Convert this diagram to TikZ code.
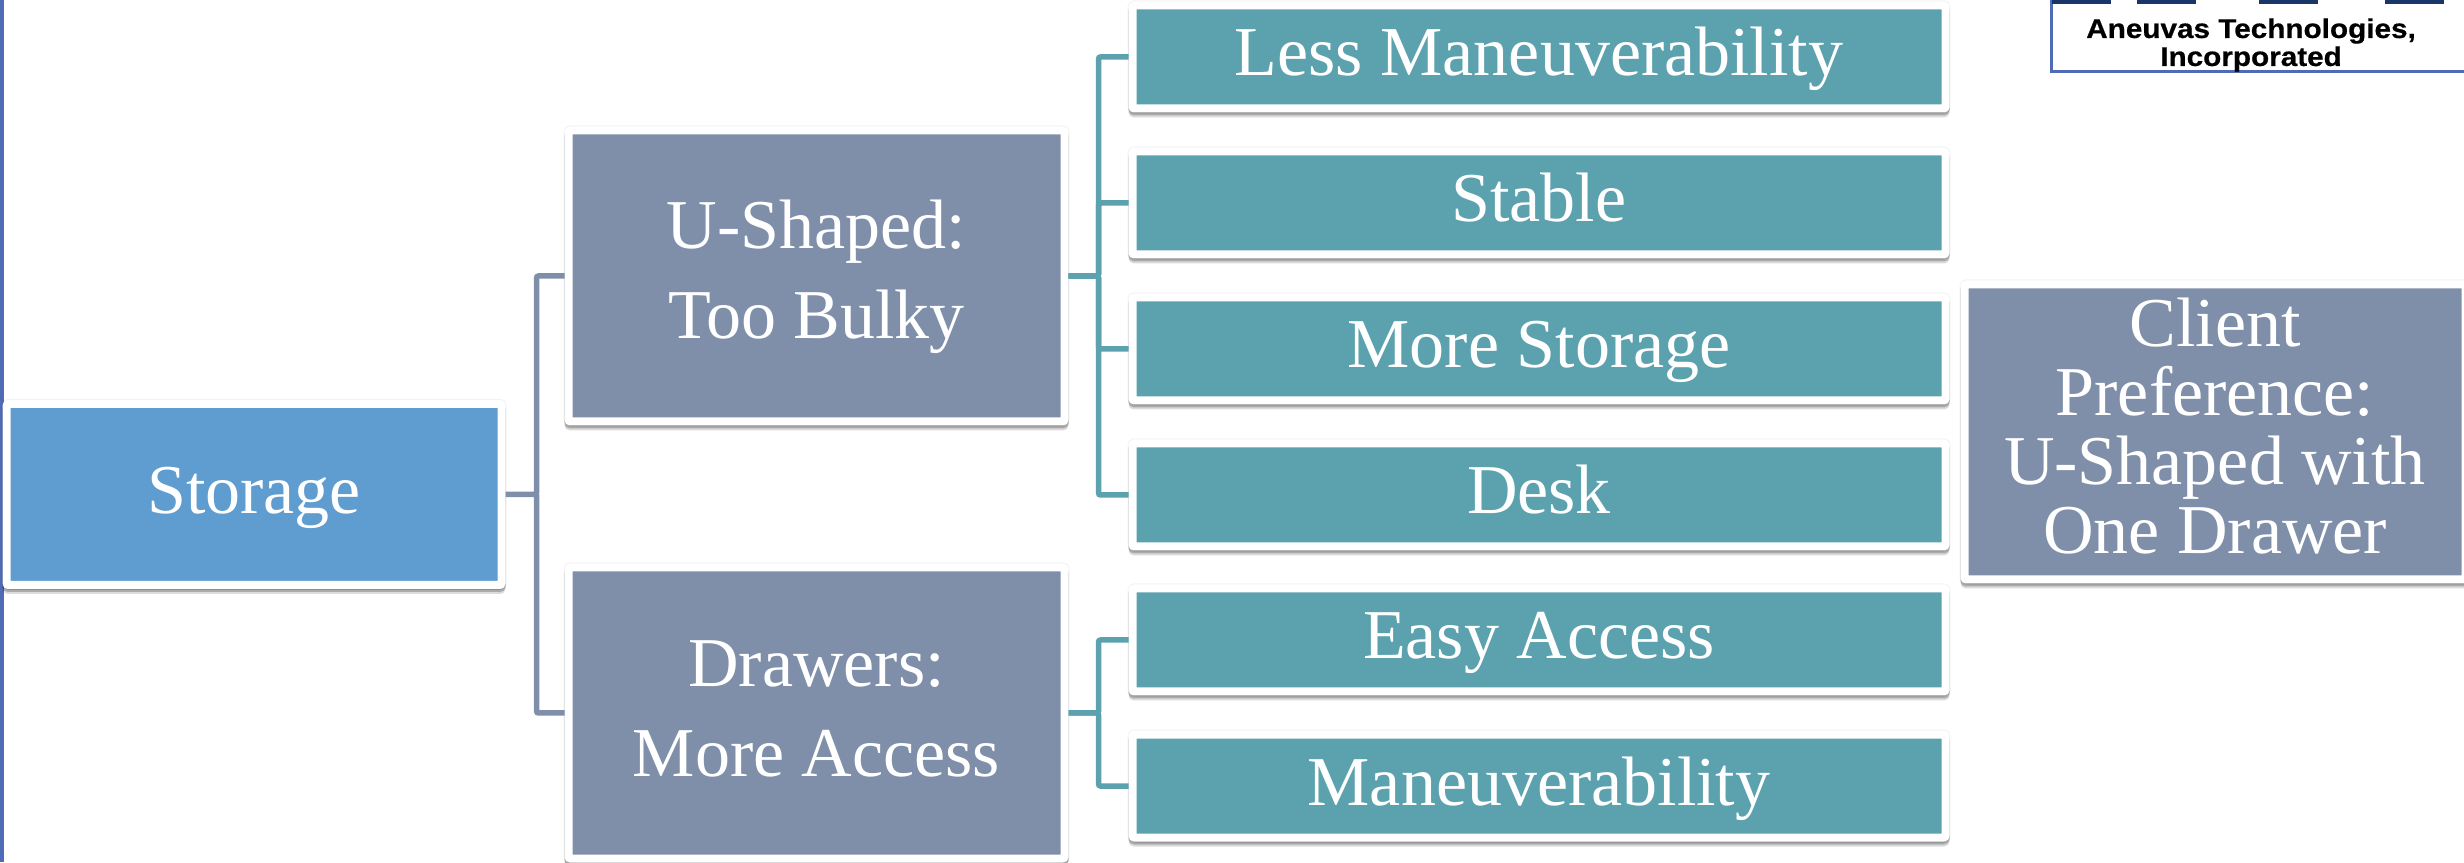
\documentclass[tikz,border=0pt]{standalone}
\usepackage{fontspec}
\setmainfont{Liberation Serif}
\newfontfamily\logofont[FakeStretch=1.1,BoldFeatures={FakeStretch=1.1,FakeBold=0.6}]{Liberation Sans}
\usepackage{tikz}
\usetikzlibrary{positioning,shadows}
\definecolor{colorroot}{RGB}{95,156,208}
\definecolor{colorgrey}{RGB}{127,143,169}
\definecolor{colorteal}{RGB}{91,162,174}
\definecolor{colorline}{RGB}{79,107,181}
\definecolor{colornavy}{RGB}{26,54,104}

\begin{document}
\begin{tikzpicture}[
    x=1pt, y=1pt,
    font={\fontsize{70}{70}\selectfont},
    box/.style={rectangle,draw=white,line width=8pt,rounded corners=2pt,inner sep=0pt,text=white,align=center,
        general shadow={fill=black,draw=black,line width=8pt,shadow xshift=0pt,shadow yshift=-5pt,opacity=.14},
        general shadow={fill=black,draw=black,line width=8pt,shadow xshift=0pt,shadow yshift=-3pt,opacity=.22},
        general shadow={fill=black,draw=black,line width=10pt,shadow xshift=0pt,shadow yshift=0pt,opacity=.05}},
    rootbox/.style={box,fill=colorroot,minimum width=495pt,minimum height=181pt,text height=51pt,text depth=13pt},
    optionbox/.style={box,fill=colorgrey,minimum width=496pt,minimum height=291pt,text depth=13pt,font={\fontsize{70}{90}\selectfont}},
    itembox/.style={box,fill=colorteal,minimum width=813pt,minimum height=103pt,text height=51pt,text depth=13pt},
    greyline/.style={draw=colorgrey,line width=5.5pt,rounded corners=2pt},
    tealline/.style={draw=colorteal,line width=5.5pt,rounded corners=2pt},
    navybar/.style={rectangle,fill=colornavy,inner sep=0pt,minimum width=59pt,minimum height=4pt},
]

    \useasboundingbox (0,0) rectangle (2464,862);

    % Frame lines
    \coordinate (frametop) at (2,862);
    \coordinate (framebottom) at (2,0);
    \draw[colorline,line width=4pt] (frametop) -- (framebottom);

    % Concepts
    \node[rootbox] (storage) at (254,367.5) {Storage};

    \node[optionbox, right=59pt of storage, yshift=218.5pt] (ushaped) {U-Shaped:\\Too Bulky};
    \node[optionbox, text depth=8pt, below=138pt of ushaped] (drawers) {Drawers:\\More Access};

    \node[itembox, right=60pt of ushaped, yshift=219pt] (less) {Less Maneuverability};
    \node[itembox, below=35pt of less] (stable) {Stable};
    \node[itembox, below=35pt of stable] (more) {More Storage};
    \node[itembox, below=35pt of more] (desk) {Desk};

    \node[itembox, right=60pt of drawers, yshift=73pt] (easy) {Easy Access};
    \node[itembox, below=35pt of easy] (man) {Maneuverability};

    \node[box, fill=colorgrey, minimum width=501pt, minimum height=295pt, text depth=12pt, right=11pt of more, yshift=-83pt, font={\fontsize{70}{69}\selectfont}] (client) {Client\\Preference:\\U-Shaped with\\One Drawer};

    % Logo
    \node[rectangle,draw=colorline,line width=2.5pt,minimum width=440pt,minimum height=90pt,inner sep=0pt,anchor=south west] (logo) at (2050,789) {};
    \node[align=center,text=black,inner sep=0pt,font={\logofont\bfseries\fontsize{27}{28}\selectfont}] (logotext) at (2251,817) {Aneuvas Technologies,\\Incorporated};
    \node[navybar, anchor=north west] (bara) at (2052,862) {};
    \node[navybar, anchor=north west] (barb) at (2137,862) {};
    \node[navybar, anchor=north west] (barc) at (2259,862) {};
    \node[navybar, anchor=north west] (bard) at (2385,862) {};

    % Concept relations
    \draw[greyline] (storage.east) -- +(31,0) coordinate (rootfork) |- (ushaped.west);
    \draw[greyline] (rootfork) |- (drawers.west);

    \foreach \target in {less,stable,more,desk} {
        \draw[tealline] (ushaped.east) -- +(30,0) coordinate (upperfork) |- (\target.west);
    }
    \foreach \target in {easy,man} {
        \draw[tealline] (drawers.east) -- +(30,0) coordinate (lowerfork) |- (\target.west);
    }

\end{tikzpicture}
\end{document}
